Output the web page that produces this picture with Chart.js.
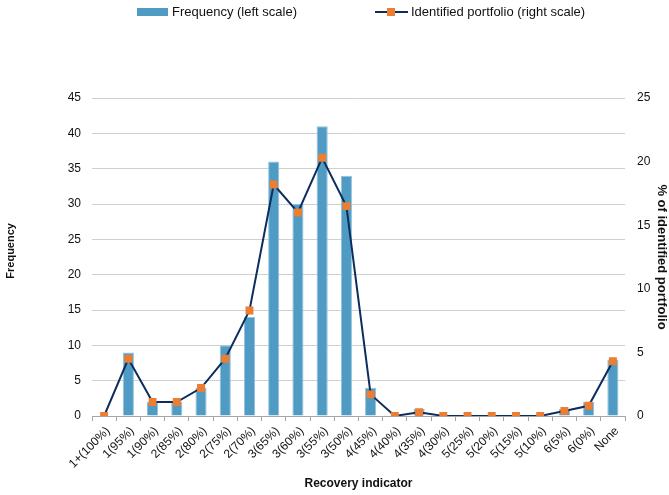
<!DOCTYPE html>
<html>
<head>
<meta charset="utf-8">
<script src="https://cdn.jsdelivr.net/npm/chart.js@4"></script>
<style>
  html, body { margin: 0; padding: 0; background: #fff; }
  #wrap { position: relative; width: 669px; height: 495px; }
  #legend { position: absolute; top: 4px; left: 0; width: 669px; font: 13px "Liberation Sans", Arial, sans-serif; color: #111; }
  #legend span.item { position: absolute; top: 0; white-space: nowrap; line-height: 16px; }
  #legend .box { display: inline-block; width: 31px; height: 8px; background: #4f9bc4; vertical-align: middle; margin-right: 4px; margin-top: -2px; }
  #legend .ln { display: inline-block; position: relative; width: 33px; height: 8px; vertical-align: middle; margin-right: 3px; margin-top: -2px; }
  #legend .ln::before { content: ""; position: absolute; left: 0; right: 0; top: 3px; height: 2px; background: #0c2d5e; }
  #legend .ln::after { content: ""; position: absolute; left: 12px; top: 0; width: 8px; height: 8px; background: #ed7d31; }
</style>
</head>
<body>
<div id="wrap">
  <div id="legend">
    <span class="item" style="left:137px"><span class="box"></span>Frequency (left scale)</span>
    <span class="item" style="left:375px"><span class="ln"></span>Identified portfolio (right scale)</span>
  </div>
  <canvas id="recoveryChart" width="669" height="495"></canvas>
</div>
<script>
// recovery indicator chart - frequency bars + share of identified portfolio line

const categories = ['1+(100%)', '1(95%)', '1(90%)', '2(85%)', '2(80%)', '2(75%)', '2(70%)',
    '3(65%)', '3(60%)', '3(55%)', '3(50%)', '4(45%)', '4(40%)', '4(35%)', '4(30%)',
    '5(25%)', '5(20%)', '5(15%)', '5(10%)', '6(5%)', '6(0%)', 'None'];

const frequency = [0, 9, 2, 2, 4, 10, 14, 36, 30, 41, 34, 4, 0, 1, 0, 0, 0, 0, 0, 1, 2, 8];

const portfolioPct = [0, 4.5, 1.1, 1.1, 2.2, 4.5, 8.3, 18.2, 16.0, 20.3, 16.5, 1.7, 0, 0.3, 0, 0, 0, 0, 0, 0.4, 0.8, 4.3];

const FONT = '"Liberation Sans", Arial, sans-serif';
Chart.defaults.font.family = FONT;
Chart.defaults.color = '#111';

const ctx = document.getElementById('recoveryChart');
new Chart(ctx, {
    type: 'bar',
    data: {
        labels: categories,
        datasets: [
            {
                type: 'line',
                label: 'Identified portfolio (right scale)',
                data: portfolioPct,
                yAxisID: 'yRight',
                borderColor: '#0c2d5e',
                borderWidth: 2,
                pointStyle: 'rect',
                pointRadius: 5.6,
                pointBackgroundColor: '#ed7d31',
                pointBorderWidth: 0,
                tension: 0,
                order: 0
            },
            {
                label: 'Frequency (left scale)',
                data: frequency,
                yAxisID: 'yLeft',
                backgroundColor: '#4f9bc4',
                borderColor: '#8ec2e0',
                borderWidth: 1,
                barPercentage: 0.46,
                categoryPercentage: 1,
                order: 1
            }
        ]
    },
    options: {
        responsive: false,
        animation: false,
        layout: { padding: { top: 98, left: 0, right: 0, bottom: 4 } },
        plugins: {
            legend: { display: false },
            tooltip: { enabled: false }
        },
        scales: {
            x: {
                offset: true,
                grid: {
                    offset: true,
                    drawOnChartArea: false,
                    drawTicks: true,
                    tickLength: 5,
                    color: '#a6a6a6'
                },
                border: { display: true, color: '#a6a6a6' },
                ticks: {
                    minRotation: 45,
                    maxRotation: 45,
                    autoSkip: false,
                    padding: 3,
                    labelOffset: 4,
                    font: { size: 12 }
                },
                title: {
                    display: true,
                    text: 'Recovery indicator',
                    font: { size: 12, weight: 'bold' },
                    padding: { top: 4, bottom: 0 }
                },
                afterFit: scale => { scale.height = 75; }
            },
            yLeft: {
                position: 'left',
                min: 0,
                max: 45,
                ticks: { stepSize: 5, padding: 11, font: { size: 12 } },
                grid: { color: '#d0d0d0', drawTicks: false },
                border: { display: false },
                title: {
                    display: true,
                    // leading spaces nudge the rotated title a little upward, as in the original
                    text: '    Frequency',
                    font: { size: 11, weight: 'bold' },
                    padding: { top: 4, bottom: 0 }
                },
                afterFit: scale => { scale.width = 92; }
            },
            yRight: {
                position: 'right',
                min: 0,
                max: 25,
                ticks: { stepSize: 5, padding: 12, font: { size: 12 } },
                grid: { display: false, drawTicks: false },
                border: { display: false },
                title: {
                    display: true,
                    text: '% of identified portfolio',
                    font: { size: 13, weight: 'bold' },
                    padding: { top: 0, bottom: 0 }
                },
                afterFit: scale => { scale.width = 44; }
            }
        }
    }
});
</script>
</body>
</html>
